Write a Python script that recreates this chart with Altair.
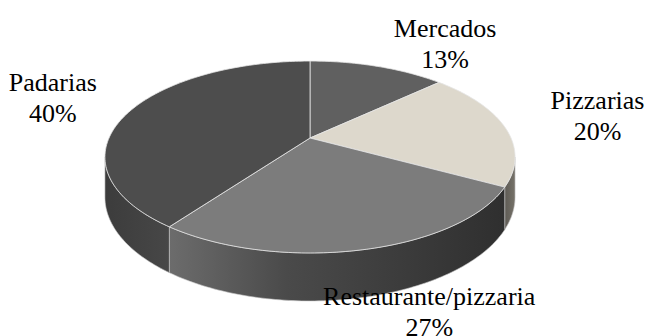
import numpy as np
import pandas as pd
import altair as alt

# ---- data ----
categories = ["Mercados", "Pizzarias", "Restaurante/pizzaria", "Padarias"]
values = [13, 20, 27, 40]
labels_pct = ["13%", "20%", "27%", "40%"]
top_colors = ["#606060", "#ddd8cc", "#7c7c7c", "#4d4d4d"]

# ---- projection of a tilted disc (perspective) ----
K = 0.198      # perspective strength
D = 0.4176     # thickness of the disc (in y units)


def proj(t):
    w = 1 + K * np.cos(t)
    return np.sin(t) / w, np.cos(t) / w, w


total = float(sum(values))
bounds = np.concatenate([[0], np.cumsum(values)]) / total * 2 * np.pi
vis_lo = np.arccos(-K)            # visible side range
vis_hi = 2 * np.pi - vis_lo

top_rows, side_rows, label_rows = [], [], []
for i, cat in enumerate(categories):
    t0, t1 = bounds[i], bounds[i + 1]
    ts = np.linspace(t0, t1, max(3, int(np.degrees(t1 - t0)) + 1))
    u, v, _ = proj(ts)
    pts = [(0.0, 0.0)] + list(zip(u, v)) + [(0.0, 0.0)]
    for j, (a, b) in enumerate(pts):
        top_rows.append({"cat": cat, "o": j, "u": a, "v": b})
    # side piece
    a0, a1 = max(t0, vis_lo), min(t1, vis_hi)
    if a1 > a0:
        ts2 = np.linspace(a0, a1, max(3, int(np.degrees(a1 - a0)) + 1))
        u2, v2, w2 = proj(ts2)
        edge = list(zip(u2, v2)) + list(zip(u2[::-1], (v2 - D / w2)[::-1]))
        edge.append(edge[0])
        for j, (a, b) in enumerate(edge):
            side_rows.append({"cat": cat, "o": j, "u": a, "v": b})
    # label anchor
    tm = (t0 + t1) / 2
    um, vm, wm = proj(np.array([tm]))
    lu = 1.2 * um[0]
    lv = 1.2 * vm[0] - (D / wm[0] if np.cos(tm) < -K else 0)
    label_rows.append({"cat": cat, "pct": labels_pct[i], "u": lu, "v": lv,
                       "al": "left" if np.sin(tm) > 0.05 else "right"})

top_df = pd.DataFrame(top_rows)
side_df = pd.DataFrame(side_rows)
lab_df = pd.DataFrame(label_rows)

W, H = 656, 328
xs = alt.Scale(domain=[-302 / 201, (W - 302) / 201], nice=False, zero=False)
ys = alt.Scale(domain=[(130 - H) / 92.2, 130 / 92.2], nice=False, zero=False)
X = alt.X("u:Q", scale=xs, axis=None)
Y = alt.Y("v:Q", scale=ys, axis=None)

side_fills = {
    "Pizzarias": {"gradient": "linear", "x1": 0, "x2": 1, "y1": 0, "y2": 0,
                  "stops": [{"offset": 0, "color": "#5e5b55"}, {"offset": 1, "color": "#77736a"}]},
    "Restaurante/pizzaria": {"gradient": "linear", "x1": 0, "x2": 1, "y1": 0, "y2": 0,
                             "stops": [{"offset": 0, "color": "#6c6c6c"},
                                       {"offset": 0.35, "color": "#4a4a4a"},
                                       {"offset": 1, "color": "#2f2f2f"}]},
    "Padarias": {"gradient": "linear", "x1": 0, "x2": 1, "y1": 0, "y2": 0,
                 "stops": [{"offset": 0, "color": "#3c3c3c"}, {"offset": 1, "color": "#474747"}]},
}

layers = []
for cat, grad in side_fills.items():
    layers.append(
        alt.Chart(side_df).transform_filter(alt.datum.cat == cat)
        .mark_line(filled=True, fill=grad, stroke="#c8c8c8", strokeWidth=0.6, interpolate="linear")
        .encode(x=X, y=Y, order="o:Q")
    )

top = alt.Chart(top_df).mark_line(filled=True, stroke="#e6e6e6", strokeWidth=0.8,
                                  strokeJoin="round").encode(
    x=X, y=Y, order="o:Q", detail="cat:N",
    fill=alt.Fill("cat:N", scale=alt.Scale(domain=categories, range=top_colors), legend=None),
)
layers.append(top)

FONT = "Liberation Serif"
for al in ["left", "right"]:
    for field, dy in [("cat", -23), ("pct", 8)]:
        layers.append(
            alt.Chart(lab_df).transform_filter(alt.datum.al == al)
            .mark_text(font=FONT, fontSize=26, align="center", baseline="middle",
                       dy=dy, dx=54 if al == "left" else -41, fill="black")
            .encode(x=X, y=Y, text=alt.Text(f"{field}:N"))
        )

chart = alt.layer(*layers).properties(
    width=W, height=H, padding=0, autosize=alt.AutoSizeParams(type="none")
).configure(font=FONT).configure_view(stroke=None)

chart.save("out.html", embed_options={"renderer": "svg", "actions": False})
